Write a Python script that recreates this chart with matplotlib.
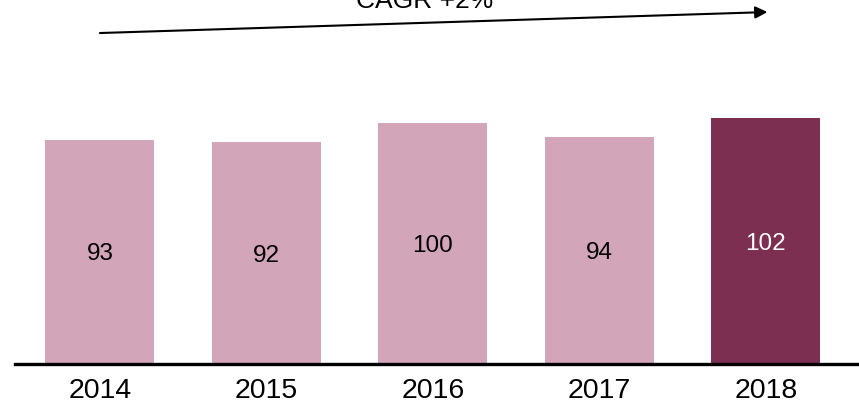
import matplotlib.pyplot as plt

plt.rcParams['font.family'] = ['Liberation Sans', 'DejaVu Sans']

years = ['2014', '2015', '2016', '2017', '2018']
values = [93, 92, 100, 94, 102]
cagr_label = 'CAGR +2%'

light = '#d3a5b9'
dark = '#7d2f52'
colors = [light, light, light, light, dark]
label_colors = ['black', 'black', 'black', 'black', 'white']

fig = plt.figure(figsize=(8.59, 4.09), dpi=100)
ax = fig.add_axes([15 / 859, 45 / 409, 844 / 859, 364 / 409])

x = list(range(len(years)))
bars = ax.bar(x, values, width=0.655, color=colors, zorder=2)

for xi, v, c in zip(x, values, label_colors):
    ax.text(xi, v / 2, str(v), ha='center', va='center_baseline', fontsize=17.5,
            color=c, zorder=3)

ax.set_xlim(-0.51, 4.56)
ax.set_ylim(0, 151)

ax.set_xticks(x)
ax.set_xticklabels(years, fontsize=20.5)
ax.tick_params(axis='x', length=0, pad=10)
ax.set_yticks([])

for s in ['top', 'right', 'left']:
    ax.spines[s].set_visible(False)
ax.spines['bottom'].set_linewidth(2.4)
ax.spines['bottom'].set_zorder(4)

# CAGR arrow
ax.annotate('', xy=(4.01, 146.0), xytext=(0.0, 137.3),
            arrowprops=dict(arrowstyle='-|>', color='black', lw=1.5,
                            mutation_scale=18, shrinkA=0, shrinkB=0),
            annotation_clip=False)
ax.text(1.95, 147.7, cagr_label, ha='center', va='baseline', fontsize=19, clip_on=False)

fig.savefig('out.png', dpi=100)
